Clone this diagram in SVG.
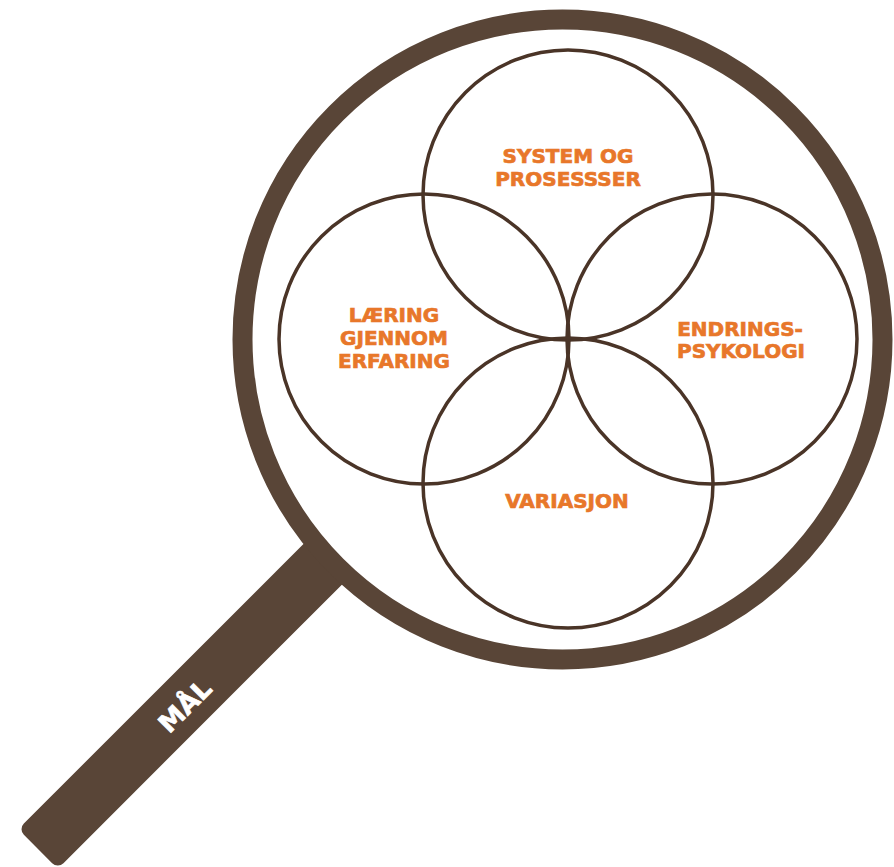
<svg xmlns="http://www.w3.org/2000/svg" width="894" height="867" viewBox="0 0 894 867">
  <style>
    .brown { fill: #594537; }
    .ring { fill: #ffffff; stroke: #594537; stroke-width: 20; }
    .petal { fill: none; stroke: #4a3427; stroke-width: 3.5; }
    .lbl { font-family: "DejaVu Sans", "Liberation Sans", sans-serif; font-weight: bold; font-size: 20px; fill: #E8772A; stroke: #E8772A; stroke-width: 0.7; text-anchor: middle; }
    .handle-lbl { font-family: "DejaVu Sans", "Liberation Sans", sans-serif; font-weight: bold; font-size: 26px; fill: #ffffff; stroke: #ffffff; stroke-width: 0.6; text-anchor: middle; }
  </style>
  <rect width="894" height="867" fill="#ffffff"/>
  <g id="handle">
    <rect class="brown" x="0" y="-28" width="500" height="56" rx="8" transform="translate(38,849) rotate(-45)"/>
    <text class="handle-lbl" transform="translate(185,706) rotate(-45)" y="9">MÅL</text>
  </g>
  <g id="lens">
    <circle class="ring" cx="562.5" cy="339.5" r="320"/>
  </g>
  <g id="connectors"></g>
  <g id="system">
    <circle class="petal" cx="568" cy="195" r="145"/>
    <text class="lbl" x="568" y="163">SYSTEM OG</text>
    <text class="lbl" x="568" y="186">PROSESSSER</text>
  </g>
  <g id="laering">
    <circle class="petal" cx="424" cy="339" r="145"/>
    <text class="lbl" x="394" y="322">LÆRING</text>
    <text class="lbl" x="394" y="345">GJENNOM</text>
    <text class="lbl" x="394" y="368">ERFARING</text>
  </g>
  <g id="endring">
    <circle class="petal" cx="712" cy="339" r="145"/>
    <text class="lbl" x="740" y="336">ENDRINGS-</text>
    <text class="lbl" x="741" y="358">PSYKOLOGI</text>
  </g>
  <g id="variasjon">
    <circle class="petal" cx="568" cy="483" r="145"/>
    <text class="lbl" x="567" y="508">VARIASJON</text>
  </g>
</svg>
